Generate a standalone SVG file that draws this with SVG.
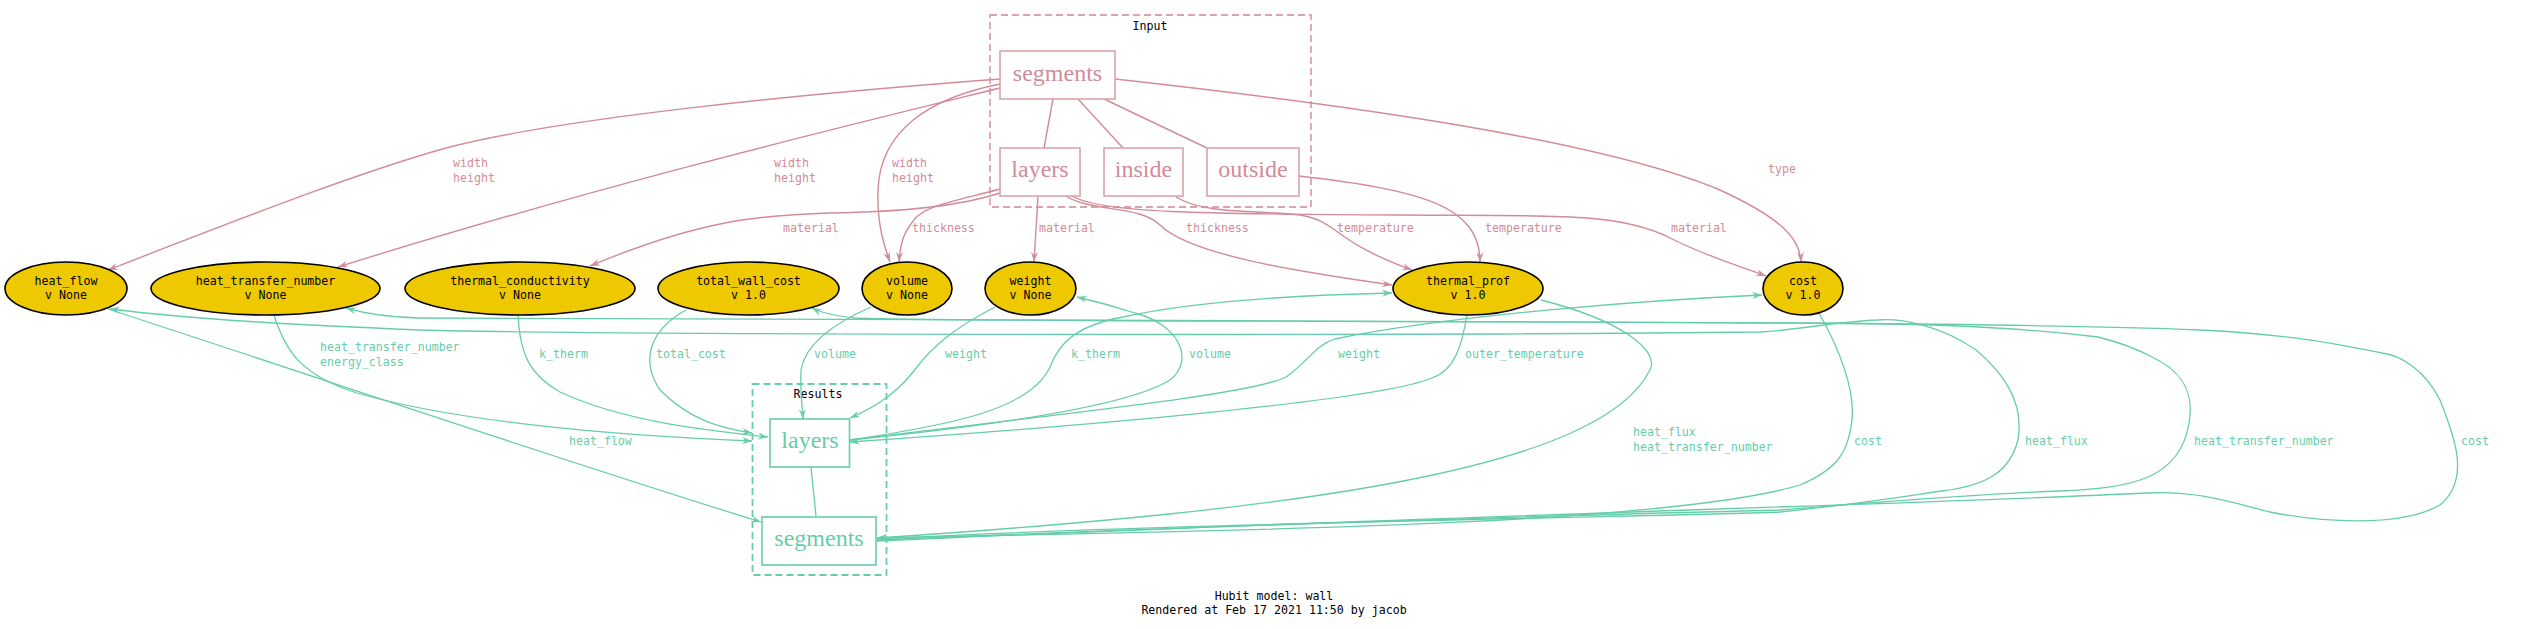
<svg xmlns="http://www.w3.org/2000/svg" width="2548" height="629" viewBox="0 0 2548 629">
<style>
.bg{fill:#ffffff}
.pe{fill:none;stroke:#d28b98;stroke-width:1.4}
.pu{fill:none;stroke:#d28b98;stroke-width:1.4}
.ge{fill:none;stroke:#66cdaa;stroke-width:1.3}
.pl{font-family:"DejaVu Sans Mono",monospace;font-size:11.6px;fill:#d28b98}
.gl{font-family:"DejaVu Sans Mono",monospace;font-size:11.6px;fill:#66cdaa}
.ell{fill:#eec900;stroke:#000000;stroke-width:1.6}
.et{font-family:"DejaVu Sans Mono",monospace;font-size:11.6px;fill:#000000;text-anchor:middle}
.pbox{fill:#ffffff;stroke:#dba3ad;stroke-width:1.6}
.gbox{fill:#ffffff;stroke:#66cdaa;stroke-width:1.6}
.pt{font-family:"Liberation Serif",serif;font-size:24px;fill:#d28b98;text-anchor:middle}
.gt{font-family:"Liberation Serif",serif;font-size:24px;fill:#66cdaa;text-anchor:middle}
.cp{fill:none;stroke:#dba3ad;stroke-width:1.8;stroke-dasharray:7,4}
.cg{fill:none;stroke:#66cdaa;stroke-width:1.8;stroke-dasharray:7,4}
.ct{font-family:"DejaVu Sans Mono",monospace;font-size:11.6px;fill:#000000;text-anchor:middle}
</style>
<defs>
<marker id="ap" viewBox="0 0 10 7" refX="10" refY="3.5" markerWidth="10" markerHeight="7" markerUnits="userSpaceOnUse" orient="auto">
<path d="M0,0 L10,3.5 L0,7 L3.5,3.5 Z" fill="#d28b98"/>
</marker>
<marker id="ag" viewBox="0 0 10 7" refX="10" refY="3.5" markerWidth="10" markerHeight="7" markerUnits="userSpaceOnUse" orient="auto">
<path d="M0,0 L10,3.5 L0,7 L3.5,3.5 Z" fill="#66cdaa"/>
</marker>
</defs>
<rect class="bg" x="0" y="0" width="2548" height="629"/>

<g id="cluster-input">
<rect class="cp" x="990" y="15" width="321" height="192"/>
<text class="ct" x="1150" y="30">Input</text>
</g>
<g id="cluster-results">
<rect class="cg" x="752.5" y="384" width="134" height="191"/>
<text class="ct" x="818" y="398">Results</text>
</g>

<g id="edges">
<!-- pink, input structure -->
<path class="pu" d="M1053,99 L1044,148"/>
<path class="pu" d="M1078,99 L1123,148"/>
<path class="pu" d="M1104,99 L1207,148"/>
<!-- pink, inputs to components -->
<path class="pe" marker-end="url(#ap)" d="M1000,79 C800,94 560,118 446,148 C360,172 250,215 108,270"/>
<path class="pe" marker-end="url(#ap)" d="M1000,88 C850,125 600,185 338,267"/>
<path class="pe" marker-end="url(#ap)" d="M1000,84 C930,98 880,130 878,190 C877,225 884,245 890,262"/>
<path class="pe" marker-end="url(#ap)" d="M1115,79 C1350,105 1600,140 1720,190 C1785,220 1800,240 1801,262"/>
<path class="pe" marker-end="url(#ap)" d="M1000,193 C960,206 900,212 830,213 C760,215 700,220 590,266"/>
<path class="pe" marker-end="url(#ap)" d="M1000,189 C960,200 925,205 914,220 C903,233 900,245 899,262"/>
<path class="pe" marker-end="url(#ap)" d="M1038,196 L1034,262"/>
<path class="pe" marker-end="url(#ap)" d="M1066,196 C1090,212 1140,205 1160,225 C1190,255 1300,272 1392,285"/>
<path class="pe" marker-end="url(#ap)" d="M1072,196 C1100,213 1200,214 1400,215 C1550,216 1620,212 1670,238 C1710,258 1740,266 1766,276"/>
<path class="pe" marker-end="url(#ap)" d="M1176,197 C1205,215 1260,210 1300,215 C1340,222 1330,240 1412,270"/>
<path class="pe" marker-end="url(#ap)" d="M1299,176 C1420,190 1480,205 1480,262"/>
<!-- green, results structure -->
<path class="ge" d="M811,467 L816,516"/>
<!-- green, components and results -->
<path class="ge" marker-end="url(#ag)" d="M274,315 C285,350 300,375 357,393 C450,420 600,435 752,441"/>
<path class="ge" marker-end="url(#ag)" d="M518,315 C520,355 530,375 560,392 C620,420 700,430 768,437"/>
<path class="ge" marker-end="url(#ag)" d="M686,310 C650,330 640,360 660,390 C690,420 720,428 752,433"/>
<path class="ge" marker-end="url(#ag)" d="M871,307 C830,325 805,345 801,370 C800,390 802,405 803,419"/>
<path class="ge" marker-end="url(#ag)" d="M995,307 C950,330 930,350 917,367 C900,390 880,405 850,418"/>
<path class="ge" marker-end="url(#ag)" d="M850,440 C950,425 1030,410 1050,367 C1060,340 1080,325 1123,317 C1200,300 1300,295 1392,293"/>
<path class="ge" marker-end="url(#ag)" d="M850,440 C1000,425 1130,405 1170,380 C1195,360 1180,325 1135,313 C1110,305 1090,300 1077,297"/>
<path class="ge" marker-end="url(#ag)" d="M850,440 C1050,415 1250,395 1286,377 C1310,360 1315,345 1335,339 C1450,315 1650,300 1762,295"/>
<path class="ge" marker-end="url(#ag)" d="M1467,315 C1462,345 1455,370 1432,378 C1380,400 1100,425 850,442"/>
<path class="ge" marker-end="url(#ag)" d="M1541,300 C1620,320 1660,350 1650,370 C1600,470 1300,510 877,538"/>
<path class="ge" marker-end="url(#ag)" d="M1819,313 C1840,350 1855,390 1852,420 C1848,455 1835,470 1800,485 C1650,530 1100,532 877,538"/>
<path class="ge" marker-end="url(#ag)" d="M877,539 C1200,522 1700,516 1780,512 C1850,505 1900,497 1942,491 C1990,485 2010,470 2018,440 C2025,400 2000,370 1976,350 C1940,325 1900,318 1878,320 C1830,322 1800,330 1760,332 C1400,336 600,335 420,330 C300,325 200,320 110,309"/>
<path class="ge" marker-end="url(#ag)" d="M877,540 C1300,522 1700,512 1780,510 C1900,500 2000,493 2060,491 C2130,488 2180,480 2189,423 C2195,390 2180,370 2152,357 C2130,345 2110,340 2098,337 C2000,325 1900,323 1780,323 C1400,320 700,320 420,318 C380,317 360,312 346,308"/>
<path class="ge" marker-end="url(#ag)" d="M877,541 C1400,517 1900,505 2147,493 C2200,490 2240,505 2270,512 C2320,522 2400,528 2440,505 C2470,480 2456,440 2440,400 C2425,370 2400,355 2382,353 C2340,345 2300,335 2200,330 C2000,322 1600,322 1200,321 C1000,320 900,320 855,318 C835,316 820,312 812,308"/>
<path class="ge" marker-end="url(#ag)" d="M108,309 C320,378 560,460 761,522"/>
</g>

<g id="edge-labels">
<text class="pl" x="453" y="167">width</text><text class="pl" x="453" y="182">height</text>
<text class="pl" x="774" y="167">width</text><text class="pl" x="774" y="182">height</text>
<text class="pl" x="892" y="167">width</text><text class="pl" x="892" y="182">height</text>
<text class="pl" x="1768" y="173">type</text>
<text class="pl" x="783" y="232">material</text>
<text class="pl" x="912" y="232">thickness</text>
<text class="pl" x="1039" y="232">material</text>
<text class="pl" x="1186" y="232">thickness</text>
<text class="pl" x="1337" y="232">temperature</text>
<text class="pl" x="1485" y="232">temperature</text>
<text class="pl" x="1671" y="232">material</text>
<text class="gl" x="320" y="351">heat_transfer_number</text><text class="gl" x="320" y="366">energy_class</text>
<text class="gl" x="539" y="358">k_therm</text>
<text class="gl" x="656" y="358">total_cost</text>
<text class="gl" x="814" y="358">volume</text>
<text class="gl" x="945" y="358">weight</text>
<text class="gl" x="1071" y="358">k_therm</text>
<text class="gl" x="1189" y="358">volume</text>
<text class="gl" x="1338" y="358">weight</text>
<text class="gl" x="1465" y="358">outer_temperature</text>
<text class="gl" x="569" y="445">heat_flow</text>
<text class="gl" x="1633" y="436">heat_flux</text><text class="gl" x="1633" y="451">heat_transfer_number</text>
<text class="gl" x="1854" y="445">cost</text>
<text class="gl" x="2025" y="445">heat_flux</text>
<text class="gl" x="2194" y="445">heat_transfer_number</text>
<text class="gl" x="2461" y="445">cost</text>
</g>

<g id="node-input-segments"><rect class="pbox" x="1000" y="51" width="115" height="48"/><text class="pt" x="1057.5" y="81">segments</text></g>
<g id="node-input-layers"><rect class="pbox" x="1000" y="148" width="80" height="48"/><text class="pt" x="1040" y="177">layers</text></g>
<g id="node-input-inside"><rect class="pbox" x="1104" y="148" width="79" height="48"/><text class="pt" x="1143.5" y="177">inside</text></g>
<g id="node-input-outside"><rect class="pbox" x="1207" y="148" width="92" height="48"/><text class="pt" x="1253" y="177">outside</text></g>

<g id="node-results-layers"><rect class="gbox" x="770" y="419" width="79.5" height="48"/><text class="gt" x="810" y="448">layers</text></g>
<g id="node-results-segments"><rect class="gbox" x="762" y="517" width="114" height="48"/><text class="gt" x="819" y="546">segments</text></g>

<g id="node-heat_flow"><ellipse class="ell" cx="66" cy="288.5" rx="61" ry="26.5"/><text class="et" x="66" y="285">heat_flow</text><text class="et" x="66" y="299">v None</text></g>
<g id="node-heat_transfer_number"><ellipse class="ell" cx="265.5" cy="288.5" rx="114.5" ry="26.5"/><text class="et" x="265.5" y="285">heat_transfer_number</text><text class="et" x="265.5" y="299">v None</text></g>
<g id="node-thermal_conductivity"><ellipse class="ell" cx="520" cy="288.5" rx="115" ry="26.5"/><text class="et" x="520" y="285">thermal_conductivity</text><text class="et" x="520" y="299">v None</text></g>
<g id="node-total_wall_cost"><ellipse class="ell" cx="748.5" cy="288.5" rx="90.5" ry="26.5"/><text class="et" x="748.5" y="285">total_wall_cost</text><text class="et" x="748.5" y="299">v 1.0</text></g>
<g id="node-volume"><ellipse class="ell" cx="907" cy="288.5" rx="45" ry="26.5"/><text class="et" x="907" y="285">volume</text><text class="et" x="907" y="299">v None</text></g>
<g id="node-weight"><ellipse class="ell" cx="1030.5" cy="288.5" rx="45.5" ry="26.5"/><text class="et" x="1030.5" y="285">weight</text><text class="et" x="1030.5" y="299">v None</text></g>
<g id="node-thermal_prof"><ellipse class="ell" cx="1468" cy="288.5" rx="75" ry="26.5"/><text class="et" x="1468" y="285">thermal_prof</text><text class="et" x="1468" y="299">v 1.0</text></g>
<g id="node-cost"><ellipse class="ell" cx="1803" cy="288.5" rx="40" ry="26.5"/><text class="et" x="1803" y="285">cost</text><text class="et" x="1803" y="299">v 1.0</text></g>

<g id="title">
<text class="ct" x="1274" y="600">Hubit model: wall</text>
<text class="ct" x="1274" y="614">Rendered at Feb 17 2021 11:50 by jacob</text>
</g>
</svg>
